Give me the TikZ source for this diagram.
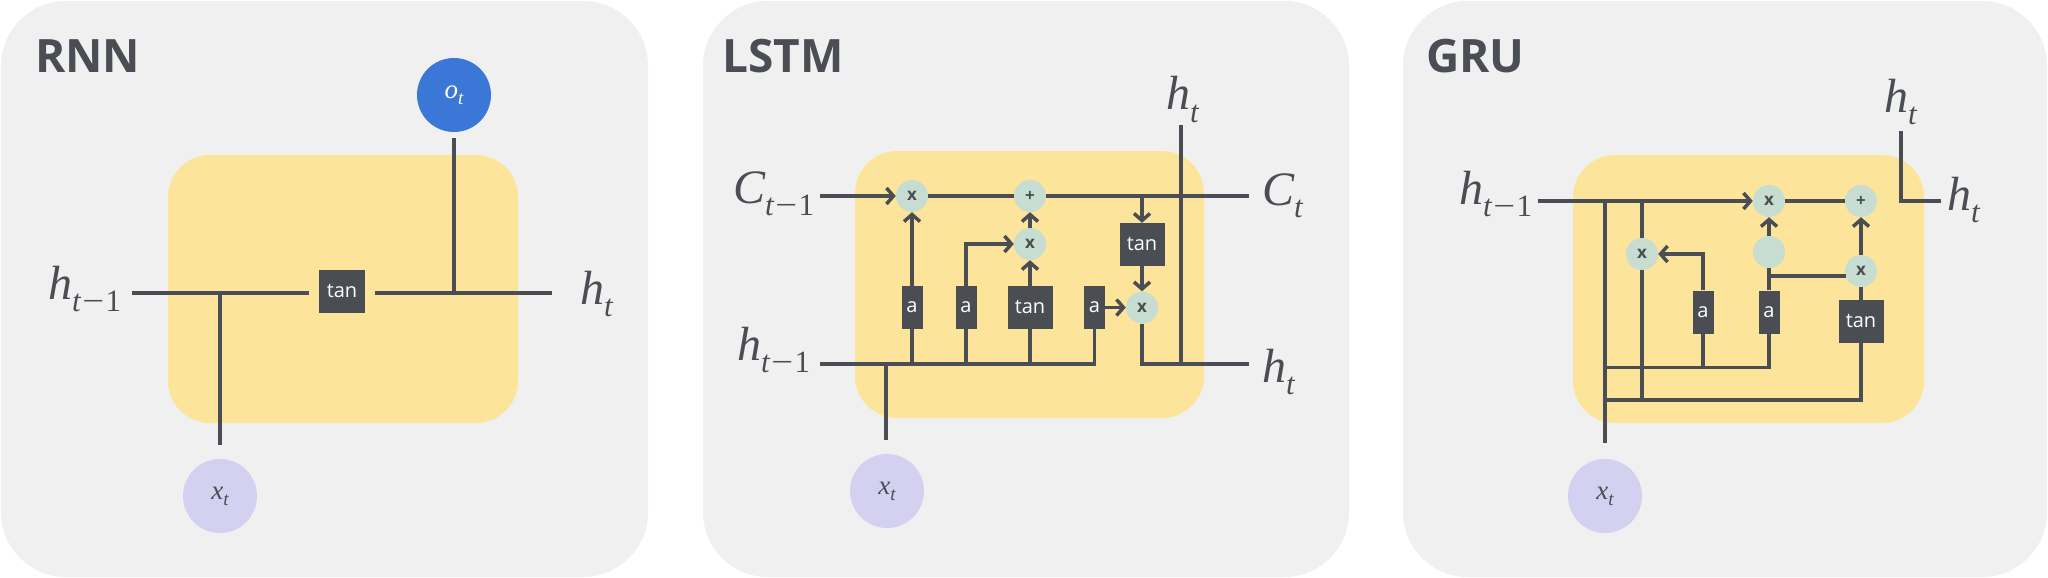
\documentclass[tikz,border=0pt]{standalone}
\usepackage{fontspec}
\setmainfont{Liberation Serif}
\newfontfamily\osans{Open Sans}
\usetikzlibrary{arrows.meta}
\definecolor{bgg}{HTML}{F0F0F0}
\definecolor{ylw}{HTML}{FDE49B}
\definecolor{dk}{HTML}{4A4E54}
\definecolor{opc}{HTML}{C8DDD2}
\definecolor{blu}{HTML}{3A77D6}
\definecolor{lav}{HTML}{D3D0F0}
\newcommand\lbl[2]{{\fontsize{48}{48}\selectfont\itshape #1\raisebox{-12.5pt}{\fontsize{31}{31}\selectfont #2}}}
\newcommand\mneg{\upshape\hspace{1.5pt}\scalebox{1.25}[1]{−}\hspace{1.5pt}}
\newcommand\clbl[2]{{\fontsize{27}{27}\selectfont\itshape #1\raisebox{-6pt}{\fontsize{19}{19}\selectfont #2}}}
\tikzset{
  panel/.style={fill=bgg, rounded corners=65pt},
  cell/.style={fill=ylw, rounded corners=42pt},
  wire/.style={draw=dk, line width=3.5pt},
  arr/.style={wire, -{Straight Barb[length=7pt,width=16pt]}},
  op/.style={circle, fill=opc, minimum size=32pt, inner sep=0pt, text=dk, font=\osans\bfseries\fontsize{17}{17}\selectfont},
  gate/.style={fill=dk, text=white, inner sep=0pt, minimum height=43pt, font=\osans\fontsize{20}{20}\selectfont},
  ttl/.style={anchor=base west, text=dk, inner sep=0pt, font=\osans\bfseries\fontsize{46}{46}\selectfont},
  lab/.style={anchor=base west, inner sep=0pt, text=dk},
  io/.style={circle, minimum size=74pt, inner sep=0pt},
}
\begin{document}
\begin{tikzpicture}[x=1pt,y=-1pt]
\useasboundingbox[fill=white] (0,0) rectangle (2048,578);
% ---------------- RNN ----------------
\fill[panel] (1,1) rectangle (648,577);
\fill[cell] (168,155) rectangle (518,423);
\node[ttl] (r-title) at (35,73) {RNN};
\node[gate, minimum width=46pt] (r-tan) at (342,291) {tan};
\node[io, fill=blu, text=white] (r-o) at (454,95) {\clbl{o}{t}};
\node[io, fill=lav, text=dk] (r-x) at (220,496) {\clbl{x}{t}};
\node[lab] (r-hin) at (48,299) {\lbl{h}{t\mneg 1}};
\node[lab] (r-hout) at (580,304) {\lbl{h}{t}};
\coordinate (r-in) at (132,293);
\coordinate (r-out) at (552,293);
\coordinate (r-j1) at (220,293);
\coordinate (r-j2) at (454,293);
\draw[wire] (r-in) -- ([xshift=-10pt]r-tan.west |- r-in);
\draw[wire] ([xshift=10pt]r-tan.east |- r-out) -- (r-out);
\draw[wire] (r-j1) -- ([yshift=14pt]r-x.north);
\draw[wire] (r-j2) -- ([yshift=-6pt]r-o.south);
% ---------------- LSTM ----------------
\fill[panel] (703,1) rectangle (1349,577);
\fill[cell] (855,151) rectangle (1204,418);
\node[ttl] (l-title) at (722,73) {LSTM};
\node[op] (l-c1) at (912,196) {x};
\node[op] (l-c2) at (1030,196) {+};
\node[op] (l-c3) at (1030,244) {x};
\node[op] (l-c4) at (1142,307.5) {x};
\node[gate, minimum width=21pt] (l-a1) at (912,307.5) {a};
\node[gate, minimum width=21pt] (l-a2) at (966,307.5) {a};
\node[gate, minimum width=45pt] (l-t1) at (1030,307.5) {tan};
\node[gate, minimum width=21pt] (l-a3) at (1094.5,307.5) {a};
\node[gate, minimum width=45pt] (l-t2) at (1142,244.5) {tan};
\node[io, fill=lav, text=dk] (l-x) at (887,491) {\clbl{x}{t}};
\node[lab] (l-cin) at (733,203) {\lbl{C}{t\mneg 1}};
\node[lab] (l-cout) at (1262,205) {\lbl{C}{t}};
\node[lab] (l-htop) at (1166,110) {\lbl{h}{t}};
\node[lab] (l-hout) at (1262,382) {\lbl{h}{t}};
\node[lab] (l-hin) at (737,360) {\lbl{h}{t\mneg 1}};
\coordinate (l-Cin) at (820,196);
\coordinate (l-Cout) at (1249,196);
\coordinate (l-tap) at (1142,196);
\coordinate (l-hi) at (820,364);
\coordinate (l-he) at (1094.5,364);
\coordinate (l-j1) at (912,364);
\coordinate (l-j2) at (966,364);
\coordinate (l-j3) at (1030,364);
\coordinate (l-jx) at (886,364);
\coordinate (l-xt) at (886,440);
\coordinate (l-ho) at (1249,364);
\coordinate (l-vt) at (1181,125);
\coordinate (l-vb) at (1181,364);
\draw[arr] (l-Cin) -- (l-c1);
\draw[wire] (l-c1) -- (l-c2);
\draw[wire] (l-c2) -- (l-Cout);
\draw[arr] (l-tap) -- (l-t2);
\draw[arr] (l-t2) -- (l-c4);
\draw[wire] (l-c4) |- (l-ho);
\draw[wire] (l-vt) -- (l-vb);
\draw[wire] (l-hi) -- (l-he) -- (l-a3);
\draw[wire] (l-j1) -- (l-a1);
\draw[wire] (l-j2) -- (l-a2);
\draw[wire] (l-j3) -- (l-t1);
\draw[arr] (l-a1) -- (l-c1);
\draw[arr] (l-a2) |- (l-c3);
\draw[arr] (l-t1) -- (l-c3);
\draw[arr] (l-c3) -- (l-c2);
\draw[arr] (l-a3) -- (l-c4);
\draw[wire] (l-jx) -- (l-xt);
% ---------------- GRU ----------------
\fill[panel] (1403,1) rectangle (2047,577);
\fill[cell] (1573,155) rectangle (1924,423);
\node[ttl] (g-title) at (1426,73) {GRU};
\node[op] (g-A) at (1769,201) {x};
\node[op] (g-B) at (1861,201) {+};
\node[op] (g-C) at (1642,254) {x};
\node[op] (g-D) at (1769,252) {};
\node[op] (g-E) at (1861,271) {x};
\node[gate, minimum width=21pt] (g-a1) at (1703,312) {a};
\node[gate, minimum width=21pt] (g-a2) at (1769,312) {a};
\node[gate, minimum width=45pt] (g-t) at (1861,321.5) {tan};
\node[io, fill=lav, text=dk] (g-x) at (1605,496) {\clbl{x}{t}};
\node[lab] (g-hin) at (1459,204) {\lbl{h}{t\mneg 1}};
\node[lab] (g-htop) at (1884,112) {\lbl{h}{t}};
\node[lab] (g-hout) at (1947,210) {\lbl{h}{t}};
\coordinate (g-hi) at (1538,201);
\coordinate (g-j1) at (1605,201);
\coordinate (g-j2) at (1642,201);
\coordinate (g-bot) at (1605,443);
\coordinate (g-L1) at (1605,367.5);
\coordinate (g-R1) at (1769,367.5);
\coordinate (g-a1b) at (1703,367.5);
\coordinate (g-L2) at (1605,400);
\coordinate (g-R2) at (1861,400);
\coordinate (g-cb) at (1642,400);
\coordinate (g-dj) at (1769,276);
\coordinate (g-ej) at (1846,276);
\coordinate (g-ht) at (1901,131);
\coordinate (g-hc) at (1901,201);
\coordinate (g-ho) at (1941,201);
\draw[arr] (g-hi) -- (g-A);
\draw[wire] (g-A) -- (g-B);
\draw[wire] (g-j1) -- (g-bot);
\draw[wire] (g-j2) -- (g-C);
\draw[wire] (g-C) -- (g-cb);
\draw[wire] (g-L1) -- (g-R1) -- (g-a2);
\draw[wire] (g-a1b) -- (g-a1);
\draw[wire] (g-L2) -- (g-R2) -- (g-t);
\draw[arr] (g-a1) |- (g-C);
\draw[wire] (g-a2) -- (g-D);
\draw[arr] (g-D) -- (g-A);
\draw[wire] (g-dj) -- (g-ej);
\draw[wire] (g-t) -- (g-E);
\draw[arr] (g-E) -- (g-B);
\draw[wire] (g-ht) -- (g-hc) -- (g-ho);
\end{tikzpicture}
\end{document}
